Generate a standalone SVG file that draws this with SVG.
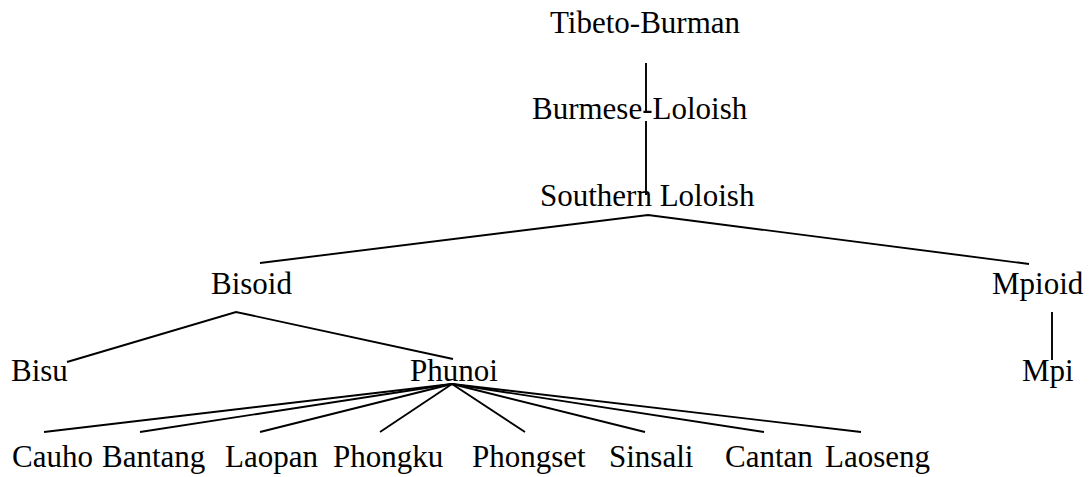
<svg xmlns="http://www.w3.org/2000/svg" width="1091" height="477" viewBox="0 0 1091 477">
  <style>
    text { font-family: "Liberation Serif", "Times New Roman", serif; font-size: 31px; fill: #000; }
    .edge { stroke: #000; stroke-width: 1.9; fill: none; stroke-linecap: butt; }
  </style>
  <rect width="1091" height="477" fill="#fff"/>

  <!-- connectors -->
  <g id="connectors">
    <line class="edge" x1="646" y1="63" x2="646" y2="112"/>
    <line class="edge" x1="646" y1="121" x2="646" y2="195"/>
    <polyline class="edge" points="260,263 648,215 1029,264"/>
    <polyline class="edge" points="67,362 236,312 453,359"/>
    <line class="edge" x1="1052" y1="312" x2="1052" y2="360"/>
    <g id="phunoi-branches">
      <line class="edge" x1="452" y1="384" x2="44" y2="432"/>
      <line class="edge" x1="452" y1="384" x2="140" y2="432"/>
      <line class="edge" x1="452" y1="384" x2="260" y2="432"/>
      <line class="edge" x1="452" y1="384" x2="380" y2="432"/>
      <line class="edge" x1="452" y1="384" x2="525" y2="432"/>
      <line class="edge" x1="452" y1="384" x2="645" y2="432"/>
      <line class="edge" x1="452" y1="384" x2="764" y2="432"/>
      <line class="edge" x1="452" y1="384" x2="861" y2="432"/>
    </g>
  </g>

  <!-- nodes -->
  <g id="tibeto-burman"><text x="550" y="33">Tibeto-Burman</text></g>
  <g id="burmese-loloish"><text x="532" y="119">Burmese-Loloish</text></g>
  <g id="southern-loloish"><text x="540" y="206">Southern Loloish</text></g>
  <g id="bisoid"><text x="211" y="294">Bisoid</text></g>
  <g id="mpioid"><text x="992" y="294">Mpioid</text></g>
  <g id="bisu"><text x="11" y="381">Bisu</text></g>
  <g id="phunoi"><text x="410" y="381">Phunoi</text></g>
  <g id="mpi"><text x="1022" y="381">Mpi</text></g>
  <g id="cauho"><text x="12" y="467">Cauho</text></g>
  <g id="bantang"><text x="102" y="467">Bantang</text></g>
  <g id="laopan"><text x="225" y="467">Laopan</text></g>
  <g id="phongku"><text x="333" y="467">Phongku</text></g>
  <g id="phongset"><text x="472" y="467">Phongset</text></g>
  <g id="sinsali"><text x="609" y="467">Sinsali</text></g>
  <g id="cantan"><text x="725" y="467">Cantan</text></g>
  <g id="laoseng"><text x="825" y="467">Laoseng</text></g>
</svg>
